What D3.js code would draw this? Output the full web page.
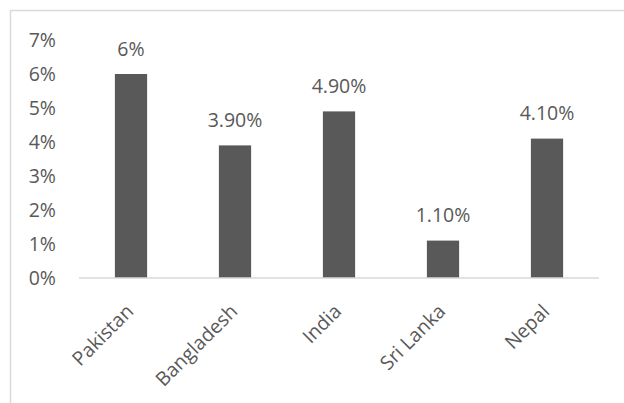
<!DOCTYPE html>
<html>
<head>
<meta charset="utf-8">
<script src="https://cdn.jsdelivr.net/npm/d3@7"></script>
<style>
  body { margin: 0; background: #fff; }
  text { font-family: "Open Sans", "Noto Sans", sans-serif; fill: #595959; }
</style>
</head>
<body>
<div id="chart"></div>
<script>
var countries = ['Pakistan', 'Bangladesh', 'India', 'Sri Lanka', 'Nepal'];
var rates = [6, 3.9, 4.9, 1.1, 4.1];
var rateLabels = ['6%', '3.90%', '4.90%', '1.10%', '4.10%'];
var yTicks = [0, 1, 2, 3, 4, 5, 6, 7];

var width = 624,
    height = 403,
    fontSize = '19.5px';

var svg = d3.select('#chart').append('svg')
    .attr('width', width)
    .attr('height', height);

// chart frame
svg.append('path')
    .attr('d', 'M10.5,' + height + 'V10.5H' + width)
    .style('fill', 'none')
    .style('stroke', '#d9d9d9')
    .style('stroke-width', 1.5);

var x = d3.scaleBand().domain(countries).range([79, 599]).paddingInner(0.69).paddingOuter(0.345);
var y = d3.scaleLinear().domain([0, 7]).range([278, 40]);

// y tick labels
svg.selectAll('.ytick').data(yTicks)
    .enter().append('text')
        .attr('class', 'ytick')
        .attr('x', 56)
        .attr('y', function(d) { return y(d); })
        .attr('dy', '0.36em')
        .attr('text-anchor', 'end')
        .style('font-size', fontSize)
        .text(function(d) { return d + '%'; });

svg.selectAll('rect').data(rates)
    .enter().append('rect')
        .style('fill', '#595959')
        .attr('x', function(d, i) { return x(countries[i]); })
        .attr('width', x.bandwidth())
        .attr('y', function(d) { return y(d); })
        .attr('height', function(d) { return y(0) - y(d); });

// baseline
svg.append('line')
    .attr('x1', 79).attr('x2', 599)
    .attr('y1', y(0)).attr('y2', y(0))
    .style('stroke', '#d9d9d9')
    .style('stroke-width', 1.5);

// value labels
svg.selectAll('.val').data(rates)
    .enter().append('text')
        .attr('class', 'val')
        .attr('x', function(d, i) { return x(countries[i]) + x.bandwidth() / 2; })
        .attr('y', function(d) { return y(d) - 18.5; })
        .attr('text-anchor', 'middle')
        .style('font-size', fontSize)
        .text(function(d, i) { return rateLabels[i]; });

// category labels
svg.selectAll('.cat').data(countries)
    .enter().append('text')
        .attr('class', 'cat')
        .attr('text-anchor', 'end')
        .style('font-size', fontSize)
        .attr('transform', function(d) {
            var cx = x(d) + x.bandwidth() / 2 - 6;
            return 'translate(' + cx + ',' + 303 + ') rotate(-45)';
        })
        .attr('dy', '0.7em')
        .text(function(d) { return d; });
</script>
</body>
</html>
